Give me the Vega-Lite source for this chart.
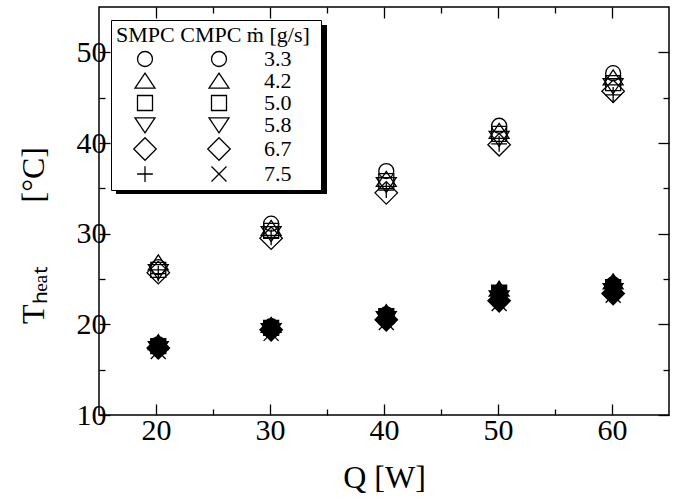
{
  "$schema": "https://vega.github.io/schema/vega-lite/v6.json",
  "width": 570,
  "height": 408,
  "autosize": {"type": "none"},
  "padding": {"left": 99, "top": 7, "right": 12, "bottom": 86},
  "background": "white",
  "config": {
    "view": {"stroke": "black", "strokeWidth": 1.5},
    "font": "Liberation Serif",
    "axis": {
      "domain": false,
      "grid": false,
      "tickColor": "black",
      "tickWidth": 1.3,
      "labelFont": "Liberation Serif",
      "labelFontSize": 30,
      "labelColor": "black",
      "labelFlush": false,
      "labelOverlap": false,
      "labelBound": false,
      "titleFont": "Liberation Serif",
      "titleFontSize": 32,
      "titleFontWeight": "normal",
      "titleColor": "black"
    }
  },
  "data": {
    "values": [
      {"Q": 20.2, "T": 26.3, "type": "SMPC", "marker": "SMPC 3.3"},
      {"Q": 20.2, "T": 26.8, "type": "SMPC", "marker": "SMPC 4.2"},
      {"Q": 20.2, "T": 26.0, "type": "SMPC", "marker": "SMPC 5.0"},
      {"Q": 20.2, "T": 25.8, "type": "SMPC", "marker": "SMPC 5.8"},
      {"Q": 20.2, "T": 25.7, "type": "SMPC", "marker": "SMPC 6.7"},
      {"Q": 20.2, "T": 25.6, "type": "SMPC", "marker": "SMPC 7.5"},
      {"Q": 30.1, "T": 31.1, "type": "SMPC", "marker": "SMPC 3.3"},
      {"Q": 30.1, "T": 30.6, "type": "SMPC", "marker": "SMPC 4.2"},
      {"Q": 30.1, "T": 30.3, "type": "SMPC", "marker": "SMPC 5.0"},
      {"Q": 30.1, "T": 30.0, "type": "SMPC", "marker": "SMPC 5.8"},
      {"Q": 30.1, "T": 29.5, "type": "SMPC", "marker": "SMPC 6.7"},
      {"Q": 30.1, "T": 29.6, "type": "SMPC", "marker": "SMPC 7.5"},
      {"Q": 40.2, "T": 36.9, "type": "SMPC", "marker": "SMPC 3.3"},
      {"Q": 40.2, "T": 36.0, "type": "SMPC", "marker": "SMPC 4.2"},
      {"Q": 40.2, "T": 35.8, "type": "SMPC", "marker": "SMPC 5.0"},
      {"Q": 40.2, "T": 35.4, "type": "SMPC", "marker": "SMPC 5.8"},
      {"Q": 40.2, "T": 34.5, "type": "SMPC", "marker": "SMPC 6.7"},
      {"Q": 40.2, "T": 34.8, "type": "SMPC", "marker": "SMPC 7.5"},
      {"Q": 50.1, "T": 41.9, "type": "SMPC", "marker": "SMPC 3.3"},
      {"Q": 50.1, "T": 41.3, "type": "SMPC", "marker": "SMPC 4.2"},
      {"Q": 50.1, "T": 41.0, "type": "SMPC", "marker": "SMPC 5.0"},
      {"Q": 50.1, "T": 40.5, "type": "SMPC", "marker": "SMPC 5.8"},
      {"Q": 50.1, "T": 39.8, "type": "SMPC", "marker": "SMPC 6.7"},
      {"Q": 50.1, "T": 39.9, "type": "SMPC", "marker": "SMPC 7.5"},
      {"Q": 60.1, "T": 47.7, "type": "SMPC", "marker": "SMPC 3.3"},
      {"Q": 60.1, "T": 47.2, "type": "SMPC", "marker": "SMPC 4.2"},
      {"Q": 60.1, "T": 46.6, "type": "SMPC", "marker": "SMPC 5.0"},
      {"Q": 60.1, "T": 46.3, "type": "SMPC", "marker": "SMPC 5.8"},
      {"Q": 60.1, "T": 45.7, "type": "SMPC", "marker": "SMPC 6.7"},
      {"Q": 60.1, "T": 45.3, "type": "SMPC", "marker": "SMPC 7.5"},
      {"Q": 20.2, "T": 17.8, "type": "CMPC", "marker": "CMPC 3.3"},
      {"Q": 20.2, "T": 18.0, "type": "CMPC", "marker": "CMPC 4.2"},
      {"Q": 20.2, "T": 17.6, "type": "CMPC", "marker": "CMPC 5.0"},
      {"Q": 20.2, "T": 17.3, "type": "CMPC", "marker": "CMPC 5.8"},
      {"Q": 20.2, "T": 17.4, "type": "CMPC", "marker": "CMPC 6.7"},
      {"Q": 20.2, "T": 17.0, "type": "CMPC", "marker": "CMPC 7.5"},
      {"Q": 30.1, "T": 19.8, "type": "CMPC", "marker": "CMPC 3.3"},
      {"Q": 30.1, "T": 19.9, "type": "CMPC", "marker": "CMPC 4.2"},
      {"Q": 30.1, "T": 19.6, "type": "CMPC", "marker": "CMPC 5.0"},
      {"Q": 30.1, "T": 19.3, "type": "CMPC", "marker": "CMPC 5.8"},
      {"Q": 30.1, "T": 19.4, "type": "CMPC", "marker": "CMPC 6.7"},
      {"Q": 30.1, "T": 19.0, "type": "CMPC", "marker": "CMPC 7.5"},
      {"Q": 40.2, "T": 21.1, "type": "CMPC", "marker": "CMPC 3.3"},
      {"Q": 40.2, "T": 21.3, "type": "CMPC", "marker": "CMPC 4.2"},
      {"Q": 40.2, "T": 20.9, "type": "CMPC", "marker": "CMPC 5.0"},
      {"Q": 40.2, "T": 20.6, "type": "CMPC", "marker": "CMPC 5.8"},
      {"Q": 40.2, "T": 20.5, "type": "CMPC", "marker": "CMPC 6.7"},
      {"Q": 40.2, "T": 20.2, "type": "CMPC", "marker": "CMPC 7.5"},
      {"Q": 50.1, "T": 23.2, "type": "CMPC", "marker": "CMPC 3.3"},
      {"Q": 50.1, "T": 23.9, "type": "CMPC", "marker": "CMPC 4.2"},
      {"Q": 50.1, "T": 23.5, "type": "CMPC", "marker": "CMPC 5.0"},
      {"Q": 50.1, "T": 22.9, "type": "CMPC", "marker": "CMPC 5.8"},
      {"Q": 50.1, "T": 22.6, "type": "CMPC", "marker": "CMPC 6.7"},
      {"Q": 50.1, "T": 22.3, "type": "CMPC", "marker": "CMPC 7.5"},
      {"Q": 60.1, "T": 24.4, "type": "CMPC", "marker": "CMPC 3.3"},
      {"Q": 60.1, "T": 24.7, "type": "CMPC", "marker": "CMPC 4.2"},
      {"Q": 60.1, "T": 24.1, "type": "CMPC", "marker": "CMPC 5.0"},
      {"Q": 60.1, "T": 23.7, "type": "CMPC", "marker": "CMPC 5.8"},
      {"Q": 60.1, "T": 23.4, "type": "CMPC", "marker": "CMPC 6.7"},
      {"Q": 60.1, "T": 23.2, "type": "CMPC", "marker": "CMPC 7.5"}
    ]
  },
  "layer": [
    {
      "transform": [{"filter": "datum.type === 'SMPC'"}],
      "mark": {"type": "point", "filled": false, "stroke": "black", "strokeWidth": 1.3, "size": 225, "opacity": 1},
      "encoding": {
        "x": {
          "field": "Q",
          "type": "quantitative",
          "scale": {"domain": [15, 65], "nice": false, "zero": false},
          "axis": {
            "orient": "bottom",
            "values": [20, 25, 30, 35, 40, 45, 50, 55, 60],
            "labelExpr": "datum.value % 10 === 0 ? datum.label : ''",
            "tickSize": {"condition": {"test": "datum.value % 10 === 0", "value": -11}, "value": -6},
            "labelPadding": 11,
            "title": "Q  [W]",
            "titlePadding": 12
          }
        },
        "y": {
          "field": "T",
          "type": "quantitative",
          "scale": {"domain": [10, 55], "nice": false, "zero": false},
          "axis": {
            "orient": "left",
            "values": [10, 15, 20, 25, 30, 35, 40, 45, 50],
            "labelExpr": "datum.value % 10 === 0 ? datum.label : ''",
            "tickSize": {"condition": {"test": "datum.value % 10 === 0", "value": -11}, "value": -6},
            "labelPadding": 4,
            "title": "Tₕₑₐₜ\u2003\u2003[°C]",
            "titleAngle": -90,
            "titleX": -66,
            "titleY": 228,
            "titleAlign": "center",
            "titleBaseline": "middle"
          }
        },
        "shape": {
          "field": "marker",
          "type": "nominal",
          "scale": {
            "domain": ["SMPC 3.3", "SMPC 4.2", "SMPC 5.0", "SMPC 5.8", "SMPC 6.7", "SMPC 7.5", "CMPC 3.3", "CMPC 4.2", "CMPC 5.0", "CMPC 5.8", "CMPC 6.7", "CMPC 7.5"],
            "range": [
              "circle",
              "M0,-1.05L1.33,0.95L-1.33,0.95Z",
              "M-1,-1L1,-1L1,1L-1,1Z",
              "M0,1.05L1.33,-0.95L-1.33,-0.95Z",
              "M0,-1.5L1.5,0L0,1.5L-1.5,0Z",
              "M-1.05,0L1.05,0M0,-1.05L0,1.05",
              "circle",
              "M0,-1.05L1.33,0.95L-1.33,0.95Z",
              "M-1,-1L1,-1L1,1L-1,1Z",
              "M0,1.05L1.33,-0.95L-1.33,-0.95Z",
              "M0,-1.5L1.5,0L0,1.5L-1.5,0Z",
              "M-1,-1L1,1M-1,1L1,-1"
            ]
          },
          "legend": {
            "orient": "none",
            "legendX": 12,
            "legendY": 13,
            "columns": 2,
            "direction": "vertical",
            "title": "SMPC CMPC  ṁ [g/s]",
            "titleLimit": 500,
            "titleFont": "Liberation Serif",
            "titleFontSize": 22,
            "titleFontWeight": "normal",
            "titleColor": "black",
            "titlePadding": 1,
            "labelFont": "Liberation Serif",
            "labelFontSize": 22,
            "labelColor": "black",
            "labelExpr": "indexof(datum.label, 'CMPC') >= 0 ? replace(datum.label, 'CMPC ', '') : ''",
            "symbolSize": 225,
            "symbolStrokeColor": "black",
            "symbolStrokeWidth": 1.3,
            "symbolOffset": 18,
            "columnPadding": -38,
            "rowPadding": -1,
            "labelOffset": 34,
            "fillColor": "white",
            "strokeColor": "black",
            "padding": 5,
            "zindex": 2,
            "encode": {
              "symbols": {
                "fill": {"condition": {"test": "indexof(datum.value, 'CMPC') >= 0", "value": "black"}, "value": "transparent"},
                "stroke": {"value": "black"}
              }
            }
          }
        }
      }
    },
    {
      "transform": [{"filter": "datum.type === 'CMPC'"}],
      "mark": {"type": "point", "filled": true, "fill": "black", "stroke": "black", "strokeWidth": 1.3, "size": 225, "opacity": 1},
      "encoding": {
        "x": {
          "field": "Q",
          "type": "quantitative",
          "scale": {"domain": [15, 65], "nice": false, "zero": false},
          "axis": {
            "orient": "top",
            "values": [20, 25, 30, 35, 40, 45, 50, 55, 60],
            "labels": false,
            "title": null,
            "tickSize": {"condition": {"test": "datum.value % 10 === 0", "value": -11}, "value": -6}
          }
        },
        "y": {
          "field": "T",
          "type": "quantitative",
          "scale": {"domain": [10, 55], "nice": false, "zero": false},
          "axis": {
            "orient": "right",
            "values": [10, 15, 20, 25, 30, 35, 40, 45, 50],
            "labels": false,
            "title": null,
            "tickSize": {"condition": {"test": "datum.value % 10 === 0", "value": -11}, "value": -6}
          }
        },
        "shape": {"field": "marker", "type": "nominal"}
      }
    },
    {
      "mark": {"type": "point", "opacity": 0, "size": 1},
      "encoding": {
        "x": {"field": "Q", "type": "quantitative", "axis": null},
        "y": {"field": "T", "type": "quantitative", "axis": null},
        "stroke": {
          "field": "T",
          "type": "quantitative",
          "scale": {"range": ["black", "black"]},
          "legend": {
            "orient": "none",
            "legendX": 17,
            "legendY": 18,
            "direction": "vertical",
            "gradientLength": 169,
            "gradientThickness": 211,
            "gradientStrokeWidth": 0,
            "labelOpacity": 0,
            "labelFontSize": 1,
            "title": null,
            "padding": 0,
            "zindex": 1
          }
        }
      }
    }
  ],
  "resolve": {"axis": {"x": "independent", "y": "independent"}}
}
